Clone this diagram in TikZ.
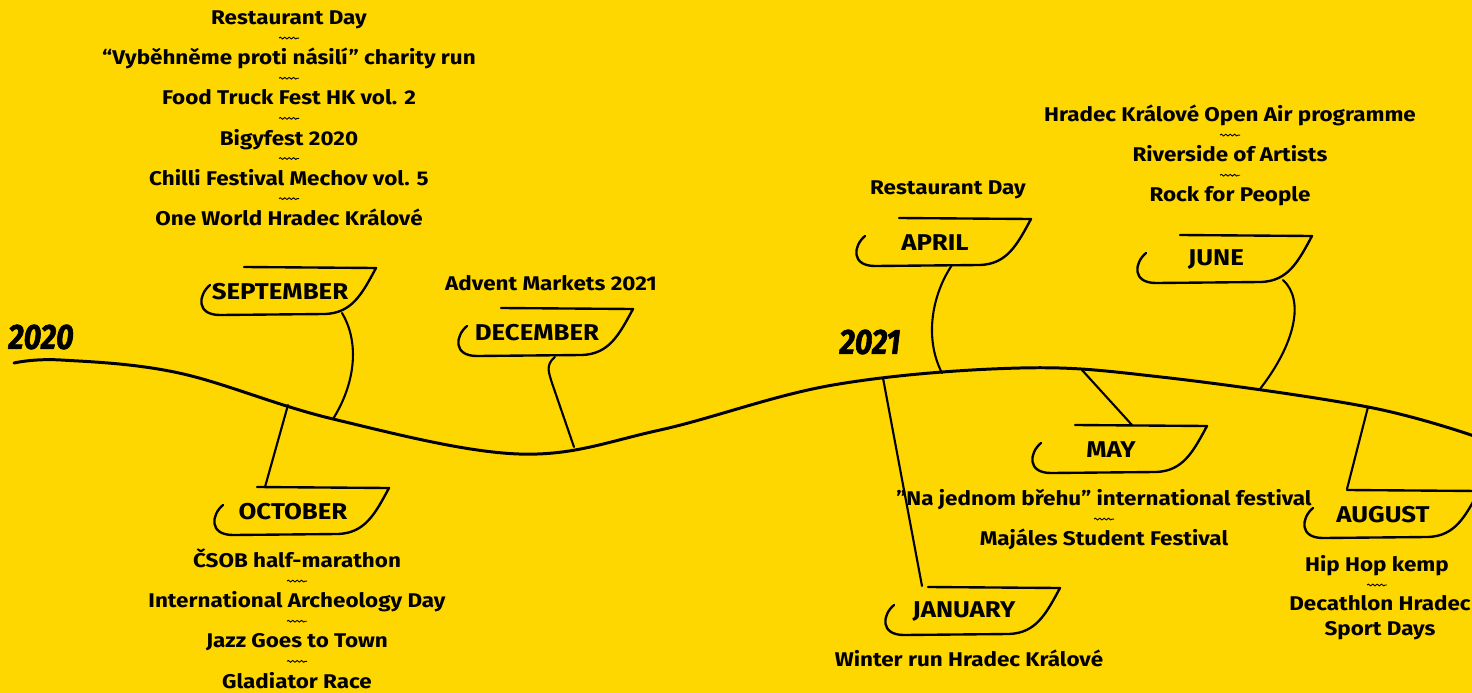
\documentclass[tikz,border=0pt]{standalone}
\usepackage{fontspec}
\setmainfont{Fira Sans}[FakeStretch=1.13]
\newfontfamily\yearfont{Fira Sans}[FakeStretch=0.86, FakeBold=1.6]
\usepackage{tikz}
\usetikzlibrary{positioning}
\usetikzlibrary{calc}
\usetikzlibrary{decorations.pathmorphing}

\definecolor{festyellow}{RGB}{255,215,0}

% boat shaped frame round a month name
\newcommand{\boat}[1]{%
\draw[boatline] ($(#1)+(-36,-25)$) -- ($(#1)+(96,-24)$)
  .. controls ($(#1)+(82,2)$) and ($(#1)+(72,21)$) .. ($(#1)+(45,22)$)
  -- ($(#1)+(-60,23)$)
  .. controls ($(#1)+(-84,23)$) and ($(#1)+(-82,3)$) .. ($(#1)+(-70,-7)$);}
% little wave between two events
\newcommand{\squig}[2]{%
\draw[squigline] ($(#1)!0.5!(#2)+(-10,0)$) -- ++(20,0);}

\begin{document}
\begin{tikzpicture}[x=0.02cm, y=-0.02cm, node distance=0.42cm,
  event/.style={font=\fontsize{11.3}{13}\selectfont\bfseries, inner sep=0pt, text height=9pt, text depth=1.5pt},
  month/.style={font=\fontsize{13}{15}\selectfont\bfseries, inner sep=0pt},
  yearlabel/.style={font=\yearfont\fontsize{20}{22}\selectfont\bfseries\itshape, inner sep=0pt},
  boatline/.style={line width=1.35pt, line cap=round, line join=round},
  link/.style={line width=1.2pt, line cap=round},
  squigline/.style={line width=0.5pt, decorate, decoration={snake, amplitude=0.5pt, segment length=2.5pt}}]
\fill[festyellow] (0,0) rectangle (1472,693);
\useasboundingbox (0,0) rectangle (1472,693);
%%%%%%%%%%%%%% time line
\draw[line width=1.7pt, line cap=round] plot[smooth, tension=0.6] coordinates {(14,363) (61,360) (179,373) (333,419) (519,454) (660,430) (833,385) (1020,368) (1161,377) (1368,407) (1480,438)};
\coordinate (j-oct) at (288,405);
\coordinate (j-sep) at (333,419);
\coordinate (j-dec) at (574,447);
\coordinate (j-jan) at (883,378);
\coordinate (j-apr) at (942,373);
\coordinate (j-may) at (1082,370);
\coordinate (j-jun) at (1260,389);
\coordinate (j-aug) at (1368,407);
\node[yearlabel] (y2020) at (41,337) {2020};
\node[yearlabel] (y2021) at (870,342) {2021};
%%%%%%%%%%%%%% months
\node[month] (sep) at (280,292) {SEPTEMBER};
\node[month] (oct) at (293,512) {OCTOBER};
\node[month] (dec) at (537,333) {DECEMBER};
\node[month] (jan) at (964,612) {JANUARY};
\node[month] (apr) at (935,243) {APRIL};
\node[month] (may) at (1111,450) {MAY};
\node[month] (jun) at (1216,260) {JUNE};
\node[month] (aug) at (1383,515) {AUGUST};
\boat{sep}
\boat{oct}
\boat{dec}
\boat{jan}
\boat{apr}
\boat{may}
\boat{jun}
\boat{aug}
%%%%%%%%%%%%%% connectors
\draw[link] ($(sep)+(62,21)$) .. controls +(18,30) and +(22,-35) .. (j-sep);
\draw[link] (j-oct) -- ($(oct)+(-28,-25)$);
\draw[link] ($(dec)+(18,24)$) .. controls +(-10,8) and +(-3,-10) .. ($(dec)+(15,50)$) -- (j-dec);
\draw[link] (j-jan) -- ($(jan)+(-42,-26)$);
\draw[link] ($(apr)+(17,22)$) .. controls +(-20,30) and +(-18,-35) .. (j-apr);
\draw[link] (j-may) -- ($(may)+(21,-25)$);
\draw[link] ($(jun)+(67,20)$) .. controls +(22,20) and +(35,-45) .. (j-jun);
\draw[link] (j-aug) -- ($(aug)+(-36,-26)$);
%%%%%%%%%%%%%% events of september
\node[event] (rd1) at (289,18) {Restaurant Day};
\node[event, below=of rd1] (run) {“Vyběhněme proti násilí” charity run};
\node[event, below=of run] (food) {Food Truck Fest HK vol. 2};
\node[event, below=of food] (bigy) {Bigyfest 2020};
\node[event, below=of bigy] (chilli) {Chilli Festival Mechov vol. 5};
\node[event, below=of chilli] (world) {One World Hradec Králové};
\squig{rd1}{run}
\squig{run}{food}
\squig{food}{bigy}
\squig{bigy}{chilli}
\squig{chilli}{world}
%%%%%%%%%%%%%% events of october
\node[event] (csob) at (297,561) {ČSOB half-marathon};
\node[event, below=of csob] (arch) {International Archeology Day};
\node[event, below=of arch] (jazz) {Jazz Goes to Town};
\node[event, below=of jazz] (glad) {Gladiator Race};
\squig{csob}{arch}
\squig{arch}{jazz}
\squig{jazz}{glad}
%%%%%%%%%%%%%% december, january, april
\node[event] (advent) at (551,284) {Advent Markets 2021};
\node[event] (winter) at (969,660) {Winter run Hradec Králové};
\node[event] (rd2) at (948,188) {Restaurant Day};
%%%%%%%%%%%%%% events of may
\node[event] (brehu) at (1104,499) {”Na jednom břehu” international festival};
\node[event, below=of brehu] (majales) {Majáles Student Festival};
\squig{brehu}{majales}
%%%%%%%%%%%%%% events of june
\node[event] (openair) at (1230,115) {Hradec Králové Open Air programme};
\node[event, below=of openair] (river) {Riverside of Artists};
\node[event, below=of river] (rock) {Rock for People};
\squig{openair}{river}
\squig{river}{rock}
%%%%%%%%%%%%%% events of august
\node[event] (hiphop) at (1377,565) {Hip Hop kemp};
\node[font=\fontsize{11.3}{14.2}\selectfont\bfseries, inner sep=0pt, align=center] (decath) at (1380,618) {Decathlon Hradec\\Sport Days};
\draw[squigline] ($(hiphop)+(-10,20)$) -- ++(20,0);
\end{tikzpicture}
\end{document}
